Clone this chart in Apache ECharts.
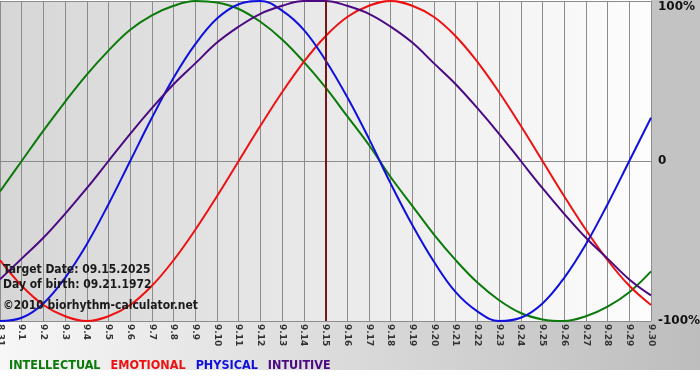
<!DOCTYPE html>
<html>
<head>
<meta charset="utf-8">
<script src="https://cdn.jsdelivr.net/npm/echarts@6/dist/echarts.min.js"></script>
<style>html,body{margin:0;padding:0;background:#fff;}#c{width:700px;height:380px;}</style>
</head>
<body>
<div id="c"></div>
<script>
var days = ['8.31','9.1','9.2','9.3','9.4','9.5','9.6','9.7','9.8','9.9','9.10','9.11','9.12','9.13','9.14','9.15','9.16','9.17','9.18','9.19','9.20','9.21','9.22','9.23','9.24','9.25','9.26','9.27','9.28','9.29','9.30'];
var intellectual = [-19,0,19,37,54,69,82,91,97,100,99,95,87,76,62,46,28,10,-10,-28,-46,-62,-76,-87,-95,-99,-100,-97,-91,-82,-69];
var emotional = [-62,-78,-90,-97,-100,-97,-90,-78,-62,-43,-22,0,22,43,62,78,90,97,100,97,90,78,62,43,22,0,-22,-43,-62,-78,-90];
var physical = [-100,-98,-89,-73,-52,-27,0,27,52,73,89,98,100,94,82,63,40,14,-14,-40,-63,-82,-94,-100,-98,-89,-73,-52,-27,0,27];
var intuitive = [-74,-61,-48,-33,-17,0,17,33,48,61,74,84,92,97,100,100,97,92,84,74,61,48,33,17,0,-17,-33,-48,-61,-74,-84];
var yTicks = {'100':'100%','0':'0','-100':'-100%'};
var targetDay = '9.15';
var infoLines = ['Target Date: 09.15.2025','Day of birth: 09.21.1972','\u00a92010 biorhythm-calculator.net'];

var FONT = 'DejaVu Sans';
var CFONT = 'DejaVu Sans Condensed';
var chart = echarts.init(document.getElementById('c'), null, {renderer:'canvas'});
function line(name, data, color, extra){
  var s = {name:name, type:'line', data:data, smooth:0.4, symbol:'none', clip:true,
    lineStyle:{color:color, width:2}, itemStyle:{color:color}, z:3};
  if (extra) for (var k in extra) s[k]=extra[k];
  return s;
}
chart.setOption({
  animation:false,
  backgroundColor:'#ffffff',
  graphic:[
    {type:'rect', z:-10, silent:true, shape:{x:0,y:321,width:700,height:49},
     style:{fill:new echarts.graphic.LinearGradient(0,0,1,0,[{offset:0,color:'#f7f7f7'},{offset:1,color:'#bdbdbd'}])}},
    {type:'rect', z:-10, silent:true, shape:{x:651,y:0,width:49,height:322}, style:{fill:'#c3c3c3'}},
    {type:'text', z:10, left:3, top:264, style:{text:infoLines[0], font:'bold 12px "'+CFONT+'"', fill:'#1a1a1a'}},
    {type:'text', z:10, left:3, top:279, style:{text:infoLines[1], font:'bold 12px "'+CFONT+'"', fill:'#1a1a1a'}},
    {type:'text', z:10, left:3, top:300, style:{text:infoLines[2], font:'bold 12px "'+CFONT+'"', fill:'#1a1a1a'}}
  ],
  grid:{left:0, right:49, top:1, bottom:59, show:true, borderWidth:0, containLabel:false, outerBoundsMode:'none',
    backgroundColor:new echarts.graphic.LinearGradient(0,0,1,0,[{offset:0,color:'#d6d6d6'},{offset:1,color:'#fdfdfd'}])},
  legend:{left:4, top:354, itemWidth:0, itemHeight:0, itemGap:10, icon:'rect', selectedMode:false,
    textStyle:{fontFamily:CFONT, fontSize:12.5, fontWeight:'bold', padding:[0,0,0,-5]},
    data:[
      {name:'INTELLECTUAL', textStyle:{color:'#0b7a0b'}},
      {name:'EMOTIONAL', textStyle:{color:'#ee1111'}},
      {name:'PHYSICAL', textStyle:{color:'#1010dd'}},
      {name:'INTUITIVE', textStyle:{color:'#4b0a82'}}
    ]},
  xAxis:{type:'category', data:days, boundaryGap:false,
    axisLine:{show:true, lineStyle:{color:'#8c8c8c', width:1}},
    axisTick:{show:false},
    axisLabel:{interval:0, rotate:-90, margin:3, fontFamily:FONT, fontSize:9, fontWeight:'bold', color:'#333', hideOverlap:false},
    splitLine:{show:true, interval:0, lineStyle:{color:'#8c8c8c', width:1}}},
  yAxis:{type:'value', position:'right', min:-100, max:100, interval:100,
    axisLine:{show:false}, axisTick:{show:false},
    axisLabel:{margin:7, fontFamily:FONT, fontSize:12, fontWeight:'bold', color:'#111',
      formatter:function(v){ var t=yTicks[String(v)]; return v===100 ? '{t|'+t+'}' : t; },
      rich:{t:{fontFamily:FONT, fontSize:12, fontWeight:'bold', color:'#111', padding:[12,0,0,0]}}},
    splitLine:{show:true, lineStyle:{color:'#8c8c8c', width:1}}},
  series:[
    line('INTELLECTUAL', intellectual, '#0b7a0b'),
    line('EMOTIONAL', emotional, '#ee1111'),
    line('PHYSICAL', physical, '#1010dd'),
    line('INTUITIVE', intuitive, '#4b0a82', {markLine:{silent:true, symbol:'none', label:{show:false},
      lineStyle:{color:'#7a1515', width:2, type:'solid'}, data:[{xAxis:targetDay}]}})
  ]
});
</script>
</body>
</html>
